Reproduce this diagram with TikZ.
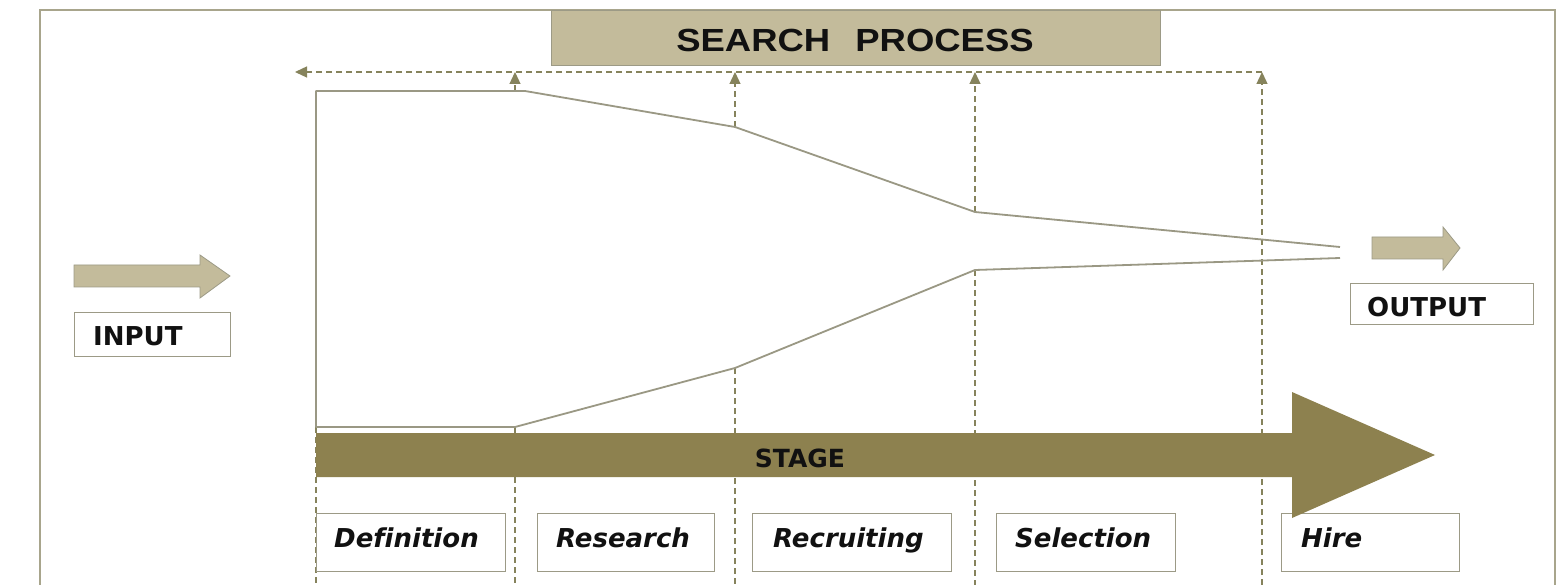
\documentclass[tikz,border=0pt]{standalone}
\usepackage{fontspec}
\setmainfont{DejaVu Sans}[Ligatures=NoCommon]
\newfontfamily\arialfont{Liberation Sans}
\usepackage{graphicx}
\usetikzlibrary{arrows.meta}
\definecolor{framec}{HTML}{A8A58C}
\definecolor{tanc}{HTML}{C3BB9B}
\definecolor{barc}{HTML}{8D814F}
\definecolor{dashc}{HTML}{86835C}
\definecolor{linec}{HTML}{9A9884}
\definecolor{boxc}{HTML}{9C9A86}
\definecolor{txtc}{HTML}{111111}
\begin{document}
\begin{tikzpicture}[x=1pt,y=-1pt,
  funnel/.style={draw=linec, line width=1.8pt, line join=round},
  guide/.style={draw=dashc, line width=1.3pt, dash pattern=on 6pt off 4pt},
  guidearrow/.style={guide, -{Triangle[width=11pt,length=12pt]}},
  stagebox/.style={draw=boxc, line width=1.4pt, fill=white, anchor=north west, inner sep=0pt},
  lbl/.style={font=\fontsize{26}{30}\selectfont\bfseries\itshape, text=txtc, inner sep=0pt, anchor=base west},
  iolbl/.style={font=\fontsize{26}{30}\selectfont\bfseries, text=txtc, inner sep=0pt, anchor=base west},
  tanarrow/.style={fill=tanc, draw=boxc, line width=0.8pt}
]
\useasboundingbox (0,0) rectangle (1561,585);
\fill[white] (0,0) rectangle (1561,585);
% frame
\draw[framec, line width=2pt] (40,585) -- (40,10) -- (1555,10) -- (1555,585);
% search process header
\node[draw=boxc, line width=1.4pt, fill=tanc, anchor=north west, minimum width=609pt, minimum height=55pt, inner sep=0pt] (sp) at (551,10) {};
\node[anchor=base, inner sep=0pt, text=txtc] (sptext) at (855,52) {\arialfont\bfseries\fontsize{32}{36}\selectfont\scalebox{1.14}[1]{SEARCH\hspace{22pt}PROCESS}};
% funnel coordinates
\coordinate (t0) at (316,91);
\coordinate (t1a) at (515,91);
\coordinate (t1) at (525,91);
\coordinate (t2) at (735,127);
\coordinate (t3) at (975,212);
\coordinate (t4) at (1340,247);
\coordinate (b0) at (316,427);
\coordinate (b1) at (515,427);
\coordinate (b2) at (735,368);
\coordinate (b3) at (975,270);
\coordinate (b4) at (1340,258);
\coordinate (hl) at (295,72);
\coordinate (hr) at (1262,72);
\coordinate (bot) at (0,585);
\coordinate (hb) at (1262,585);
% guides
\draw[guidearrow] (hr) -- (hl);
\draw[guidearrow] (t1a) -- (t1a |- hr);
\draw[guidearrow] (t2) -- (t2 |- hr);
\draw[guidearrow] (t3) -- (t3 |- hr);
\draw[guidearrow] (hb) -- (hr);
\draw[guide] (b0) -- (b0 |- bot);
\draw[guide] (b1) -- (b1 |- bot);
\draw[guide] (b2) -- (b2 |- bot);
\draw[guide] (b3) -- (b3 |- bot);
% funnel
\draw[funnel] (t4) -- (t3) -- (t2) -- (t1) -- (t0) -- (b0) -- (b1) -- (b2) -- (b3) -- (b4);
% input
\draw[tanarrow] (74,265) -- (200,265) -- (200,255) -- (230,276) -- (200,298) -- (200,287) -- (74,287) -- cycle;
\node[stagebox, minimum width=156pt, minimum height=44pt] (inbox) at (74,312) {};
\node[iolbl] (intext) at (93,345) {INPUT};
% output
\draw[tanarrow] (1372,237) -- (1443,237) -- (1443,227) -- (1460,248) -- (1443,270) -- (1443,259) -- (1372,259) -- cycle;
\node[stagebox, minimum width=183pt, minimum height=41pt] (outbox) at (1350,283) {};
\node[iolbl] (outtext) at (1367,317) {OUTPUT};
% stage boxes
\node[stagebox, minimum width=189pt, minimum height=58pt] (def) at (316,513) {};
\node[stagebox, minimum width=177pt, minimum height=58pt] (res) at (537,513) {};
\node[stagebox, minimum width=199pt, minimum height=58pt] (rec) at (752,513) {};
\node[stagebox, minimum width=179pt, minimum height=58pt] (sel) at (996,513) {};
\node[stagebox, minimum width=178pt, minimum height=58pt] (hire) at (1281,513) {};
\node[lbl] (deft) at (334,547) {Definition};
\node[lbl] (rest) at (556,547) {Research};
\node[lbl] (rect) at (773,547) {Recruiting};
\node[lbl] (selt) at (1015,547) {Selection};
\node[lbl] (hiret) at (1301,547) {Hire};
% stage arrow
\fill[barc] (316,433) -- (1292,433) -- (1292,392) -- (1435,455) -- (1292,518) -- (1292,477) -- (316,477) -- cycle;
\node[anchor=base, inner sep=0pt, text=txtc, font=\fontsize{25}{30}\selectfont\bfseries] (stage) at (800,467) {STAGE};
\end{tikzpicture}
\end{document}
